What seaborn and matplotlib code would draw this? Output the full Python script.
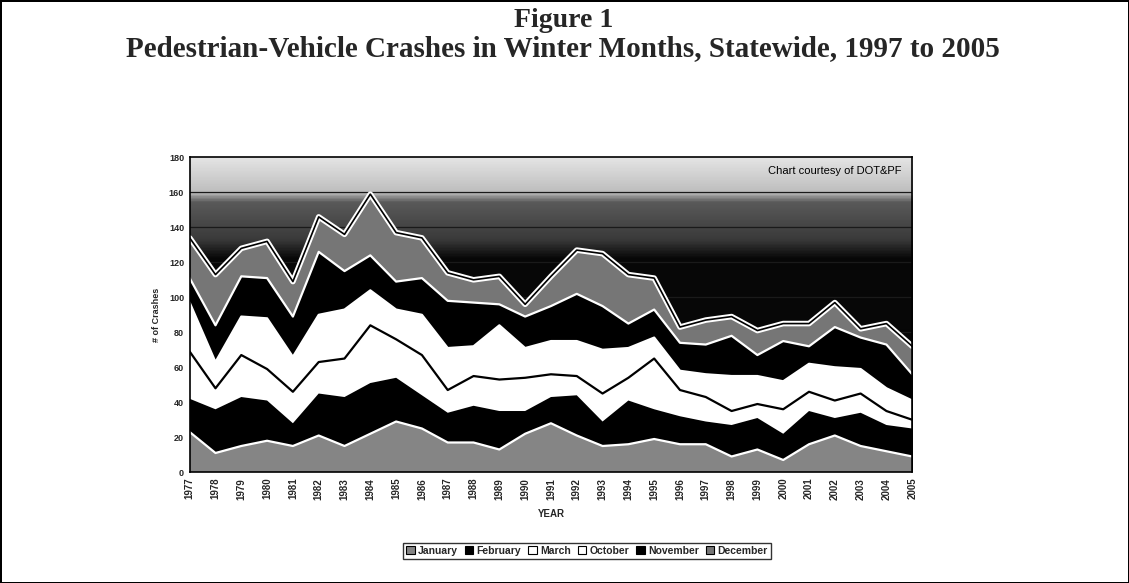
import numpy as np
import matplotlib
matplotlib.use("Agg")
import matplotlib.pyplot as plt
from matplotlib.colors import LinearSegmentedColormap
from matplotlib.patches import Patch
import seaborn as sns

sns.set_style("white")
plt.rcParams['font.family'] = ['Liberation Sans', 'DejaVu Sans']

# donnees (nombre de collisions par mois)
years = list(range(1977, 2006))
january  = [23, 11, 15, 18, 15, 21, 15, 22, 29, 25, 17, 17, 13, 22, 28, 21, 15, 16, 19, 16, 16, 9, 13, 7, 16, 21, 15, 12, 9]
february = [19, 25, 28, 23, 13, 24, 28, 29, 25, 19, 17, 21, 22, 13, 15, 23, 14, 25, 17, 16, 13, 18, 18, 15, 19, 10, 19, 15, 16]
march    = [27, 12, 24, 18, 18, 18, 22, 33, 22, 23, 13, 17, 18, 19, 13, 11, 16, 13, 29, 15, 14, 8, 8, 14, 11, 10, 11, 8, 5]
october  = [28, 15, 22, 29, 20, 27, 28, 20, 17, 23, 24, 17, 31, 17, 19, 20, 25, 17, 12, 11, 13, 20, 16, 16, 16, 19, 14, 13, 11]
november = [14, 21, 23, 23, 23, 36, 22, 20, 16, 21, 27, 25, 12, 18, 20, 27, 25, 14, 16, 16, 17, 23, 12, 23, 10, 23, 18, 25, 15]
december = [23, 29, 16, 21, 20, 20, 21, 35, 28, 23, 16, 13, 16, 7, 17, 25, 30, 28, 18, 9, 14, 11, 14, 10, 13, 14, 5, 12, 16]
months = ['January', 'February', 'March', 'October', 'November', 'December']

series = [january, february, march, october, november, december]
fills = ['#858585', 'black', 'white', 'white', 'black', '#767676']
edges = ['white', 'black', 'black', 'white', 'white', 'white']

fig = plt.figure(figsize=(11.29, 5.83), dpi=100)
fig.patch.set_edgecolor('black')
fig.patch.set_linewidth(2)
ax = fig.add_axes([0.168, 0.19, 0.64, 0.54])

# fond degrade du graphique (noir en bas, gris clair en haut)
grad = np.linspace(0, 1, 360).reshape(-1, 1)
cmap_bg = LinearSegmentedColormap.from_list('bg', [(0, '#050505'), (0.68, '#080808'), (0.74, '#3a3a3a'),
                                                     (0.86, '#5a5a5a'), (0.89, '#bdbdbd'), (1, '#e4e4e4')])
ax.imshow(grad, extent=[years[0], years[-1], 0, 180], origin='lower', aspect='auto', cmap=cmap_bg, zorder=0)
for yy in range(20, 180, 20):
    ax.axhline(yy, color='#1a1a1a', lw=0.9, zorder=0.5)

# aires empilees
base = np.zeros(len(years))
for vals, fc in zip(series, fills):
    top = base + np.array(vals)
    ax.fill_between(years, base, top, facecolor=fc, edgecolor='none', zorder=1)
    base = top

# contours des aires
cum = np.cumsum(np.array(series), axis=0)
for i, ec in enumerate(edges):
    if i == 5:
        sns.lineplot(x=years, y=cum[i], color='white', lw=4, ax=ax, zorder=2)
        sns.lineplot(x=years, y=cum[i], color='black', lw=1.2, ax=ax, zorder=3)
    elif i in (0, 2, 3, 4):
        sns.lineplot(x=years, y=cum[i], color=ec, lw=1.6, ax=ax, zorder=2)

ax.set_xlim(years[0], years[-1])
ax.set_ylim(0, 180)
ax.set_yticks(range(0, 181, 20))
ax.set_xticks(years)
ax.set_xticklabels([str(y) for y in years], rotation=90, fontsize=7, fontweight='bold')
ax.tick_params(axis='y', labelsize=6.5)
for t in ax.get_yticklabels():
    t.set_fontweight('bold')
ax.tick_params(length=0, pad=4)
for s in ax.spines.values():
    s.set_color('black')
    s.set_linewidth(1.2)
ax.set_ylabel('# of Crashes', fontsize=6.5, fontweight='bold', labelpad=6)
ax.set_xlabel('YEAR', fontsize=7, fontweight='bold', labelpad=7)

ax.text(2004.6, 172, 'Chart courtesy of DOT&PF', ha='right', va='center', fontsize=8, color='black', zorder=4)

fig.text(0.499, 0.965, 'Figure 1', ha='center', va='center', fontsize=20, fontweight='bold', family='Liberation Serif')
fig.text(0.499, 0.917, 'Pedestrian-Vehicle Crashes in Winter Months, Statewide, 1997 to 2005', ha='center', va='center',
         fontsize=21, fontweight='bold', family='Liberation Serif')

# legende
handles = [Patch(facecolor=fc, edgecolor='black', lw=0.8) for fc in fills]
leg = fig.legend(handles, months, loc='center', bbox_to_anchor=(0.52, 0.055), ncol=6, fontsize=7.5,
                 handlelength=0.8, handleheight=0.8, handletextpad=0.3, columnspacing=0.7,
                 frameon=True, fancybox=False, edgecolor='black', borderpad=0.3)
leg.get_frame().set_linewidth(1)
for t in leg.get_texts():
    t.set_fontweight('bold')

fig.savefig('out.png', dpi=100)
